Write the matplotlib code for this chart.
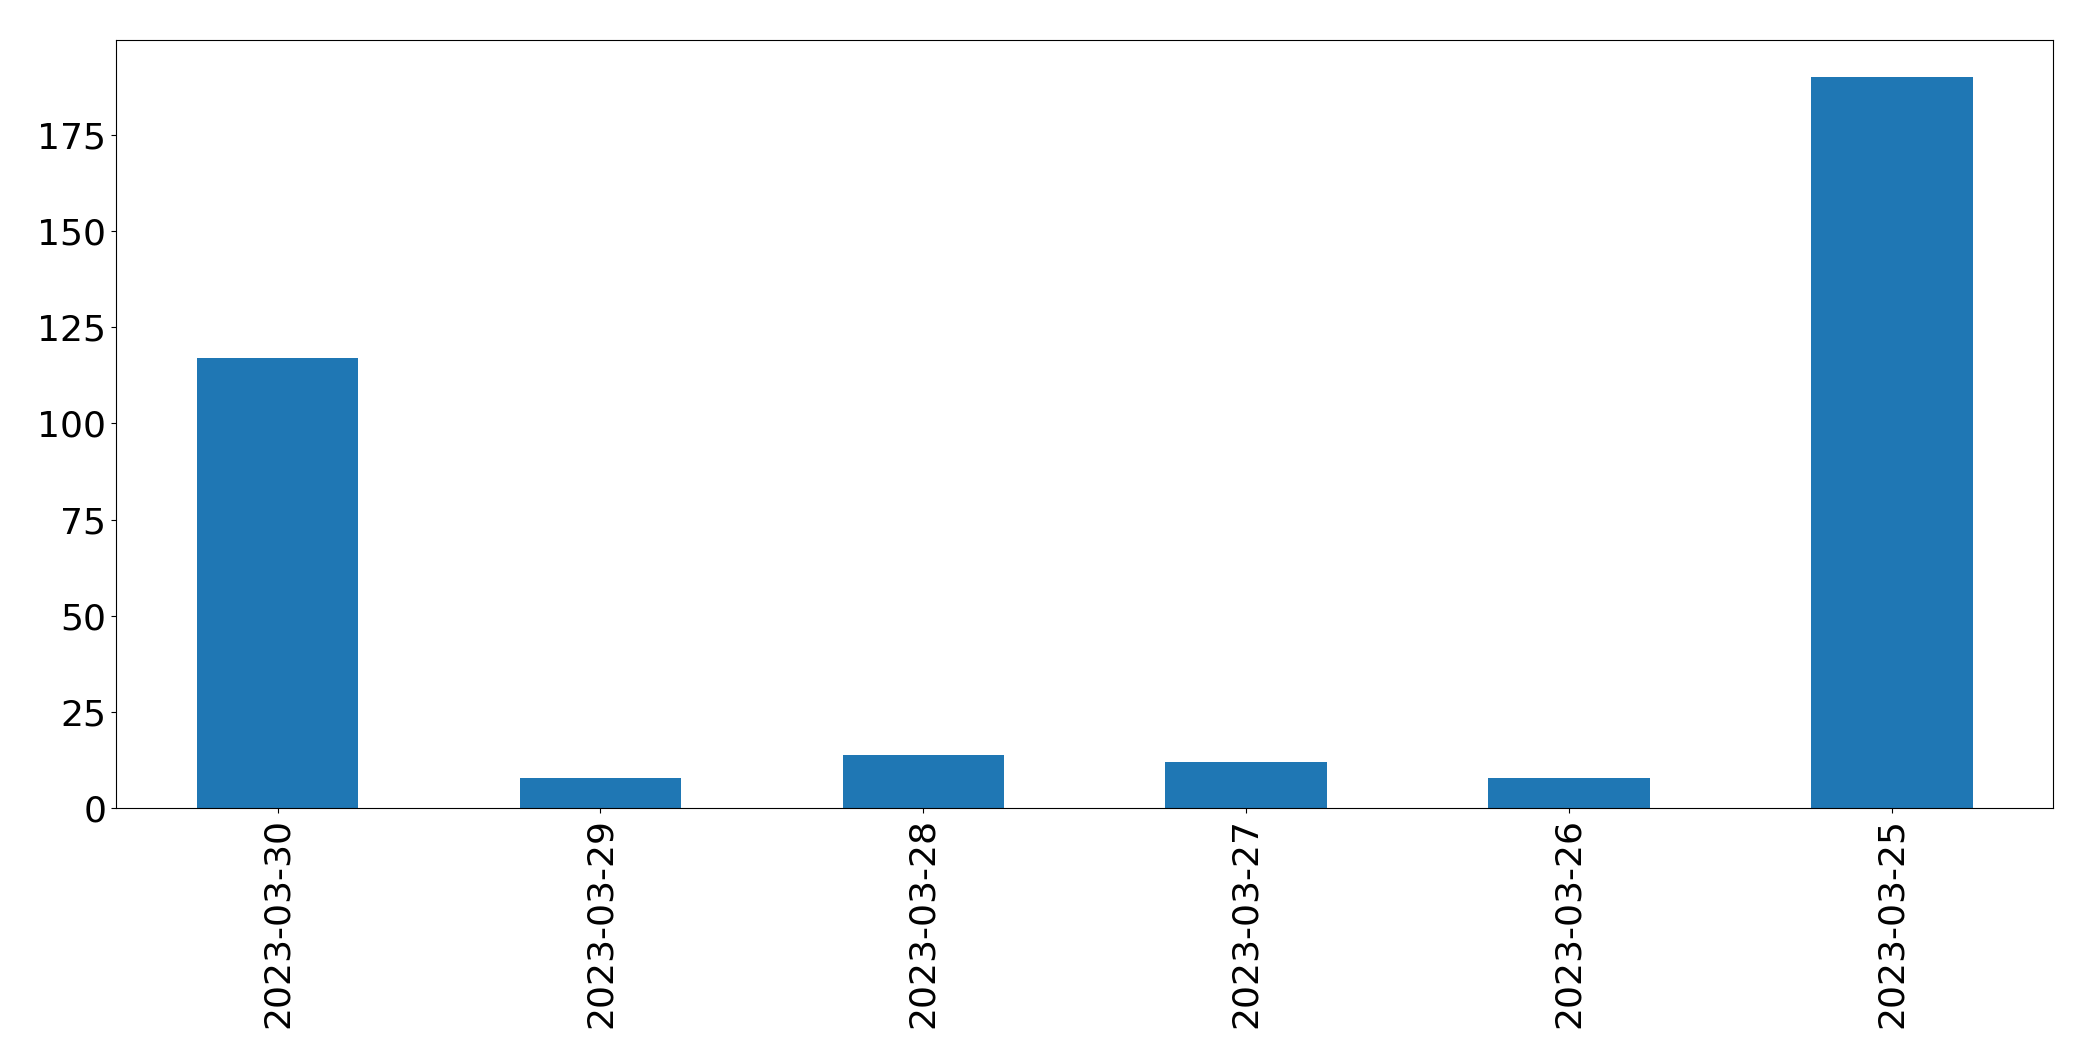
import matplotlib
matplotlib.use("Agg")
import matplotlib.pyplot as plt

dates = ["2023-03-30", "2023-03-29", "2023-03-28", "2023-03-27", "2023-03-26", "2023-03-25"]
counts = [117, 8, 14, 12, 8, 190]

fig = plt.figure(figsize=(20.93, 10.61), dpi=100)
ax = fig.add_axes([0.0555, 0.238, 0.9255, 0.724])
x = range(len(dates))
ax.bar(x, counts, width=0.5, color="#1f77b4")
ax.set_xlim(-0.5, len(dates) - 0.5)
ax.set_ylim(0, max(counts) * 1.05)
ax.set_xticks(list(x))
ax.set_xticklabels(dates, rotation=90)
ax.tick_params(labelsize=26)
fig.savefig("out.png", dpi=100)
